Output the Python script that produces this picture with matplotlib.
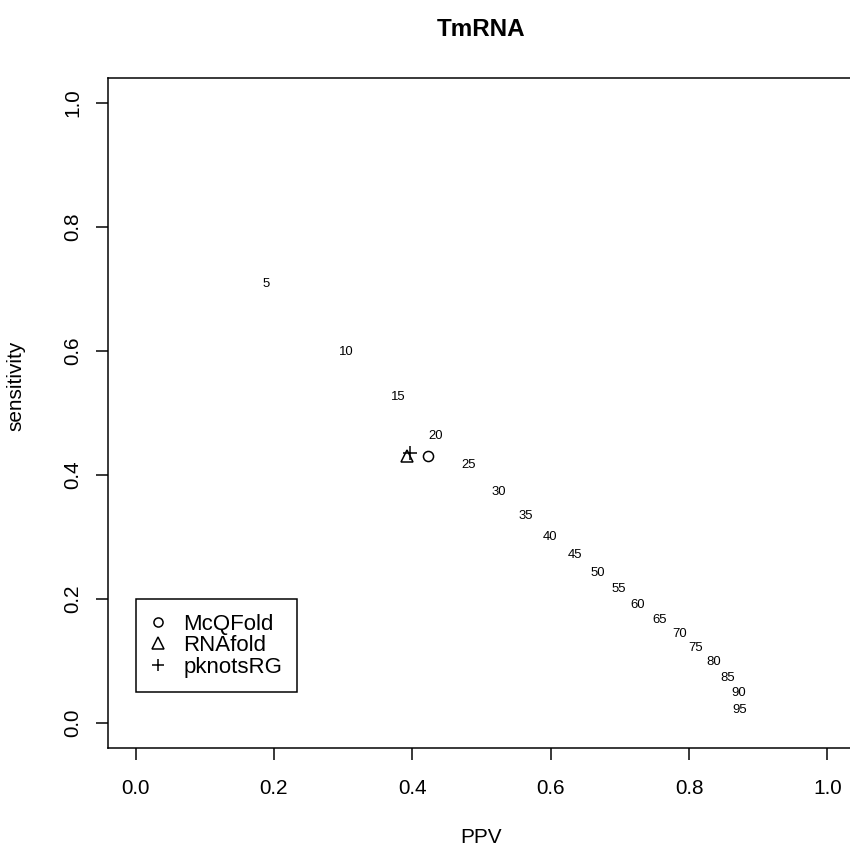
import matplotlib
matplotlib.use("Agg")
from matplotlib import pyplot as plt

plt.rcParams['font.family'] = ['Liberation Sans', 'DejaVu Sans']

# threshold labels drawn along the PPV / sensitivity sweep
cut_labels = ['5', '10', '15', '20', '25', '30', '35', '40', '45', '50',
              '55', '60', '65', '70', '75', '80', '85', '90', '95']
cut_ppv = [0.189, 0.304, 0.379, 0.433, 0.482, 0.525, 0.564, 0.599, 0.635, 0.668,
           0.699, 0.726, 0.757, 0.786, 0.810, 0.835, 0.856, 0.872, 0.874]
cut_sens = [0.708, 0.599, 0.525, 0.463, 0.416, 0.373, 0.334, 0.300, 0.271, 0.242,
            0.217, 0.190, 0.166, 0.143, 0.121, 0.098, 0.073, 0.049, 0.022]

# the three folding programs
methods = ['McQFold', 'RNAfold', 'pknotsRG']
method_ppv = [0.422, 0.392, 0.397]
method_sens = [0.430, 0.430, 0.435]
method_marker = ['o', '^', '+']
method_size = [6, 7.5, 8.5]

dpi = 850 / 7.0
fig = plt.figure(figsize=(7.0, 847 / dpi), dpi=dpi)
# R style plot region, right edge falls just outside the picture
ax = fig.add_axes([108 / 850, 99 / 847, 747 / 850, 670 / 847])

for name, px, sy, mk, ms in zip(methods, method_ppv, method_sens, method_marker, method_size):
    ax.plot([px], [sy], linestyle='none', marker=mk, markersize=ms,
            markerfacecolor='none', markeredgecolor='black', markeredgewidth=0.9,
            color='black', label=name)

for lab, px, sy in zip(cut_labels, cut_ppv, cut_sens):
    ax.text(px, sy, lab, fontsize=7.8, ha='center', va='center')

ax.set_xlim(-0.04, 1.04)
ax.set_ylim(-0.04, 1.04)
ticks = [0.0, 0.2, 0.4, 0.6, 0.8, 1.0]
ax.set_xticks(ticks)
ax.set_yticks(ticks)
ax.set_xticklabels(['%.1f' % t for t in ticks])
ax.set_yticklabels(['%.1f' % t for t in ticks], rotation=90, va='center')
ax.tick_params(axis='both', length=7.1, width=0.9, labelsize=12.3)
ax.tick_params(axis='x', pad=11)
ax.tick_params(axis='y', pad=8)

for sp in ax.spines.values():
    sp.set_linewidth(0.9)

ax.set_title('TmRNA', fontsize=14.4, fontweight='bold', pad=24.7)
ax.set_xlabel('PPV', fontsize=12.3)
ax.set_ylabel('sensitivity', fontsize=12.3)
ax.xaxis.set_label_coords(0.5, -0.12)
ax.yaxis.set_label_coords(-0.111, 0.54)

leg = ax.legend(loc='upper left', bbox_to_anchor=(0.0, 0.2), bbox_transform=ax.transData,
                borderaxespad=0, fontsize=13.2, fancybox=False, framealpha=1,
                edgecolor='black', borderpad=0.65, handlelength=0.7,
                handletextpad=0.8, labelspacing=0.03, markerscale=0.9)
leg.get_frame().set_linewidth(0.9)

plt.savefig('out.png', dpi=dpi)
